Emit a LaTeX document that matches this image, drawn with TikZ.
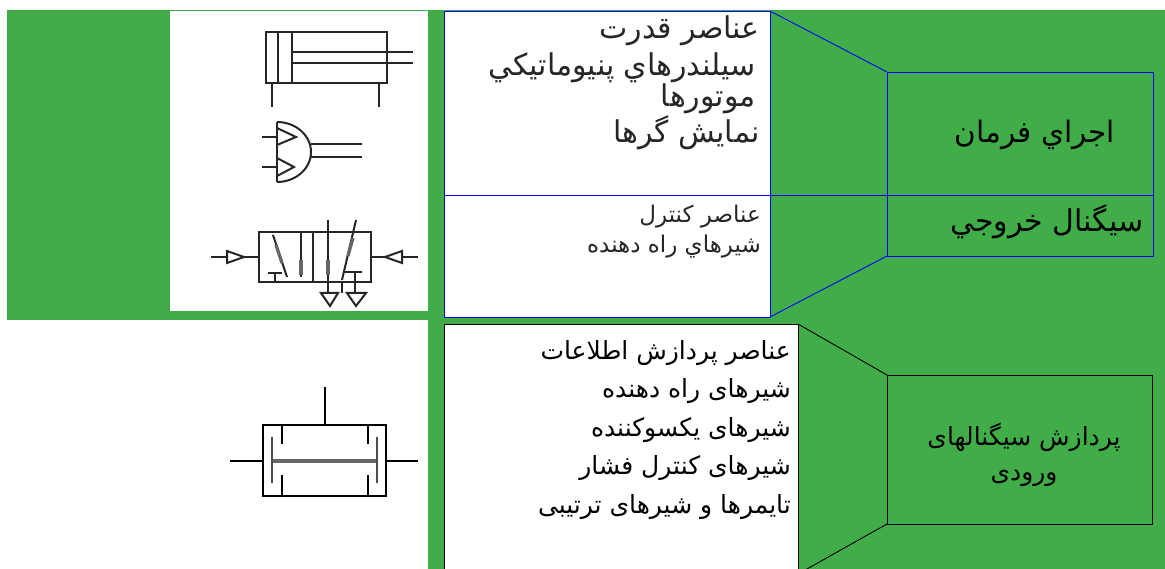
\documentclass[tikz,border=0pt]{standalone}
\usepackage{fontspec}
\usetikzlibrary{positioning}
\TeXXeTstate=1
\newfontfamily\arabicfont[Script=Arabic]{DejaVu Sans}
\newcommand{\rtl}[1]{\beginR #1\endR}
\definecolor{leafgreen}{HTML}{41AD49}
\tikzset{
    blockbox/.style={draw, rectangle, outer sep=0pt, inner sep=0pt, line width=0.9pt, anchor=north west},
    whitebox/.style={blockbox, fill=white},
    listtext/.style={align=right, anchor=north east, inner sep=0pt, font=\arabicfont\fontsize{#1}{#1}\selectfont},
    titletext/.style={align=center, inner sep=0pt, font=\arabicfont\fontsize{#1}{#1}\selectfont},
    symline/.style={line width=2pt, black!85},
    symfat/.style={line width=3.2pt, black!60},
}
\begin{document}
\begin{tikzpicture}[x=1pt, y=-1pt]
\useasboundingbox (0,0) rectangle (1165,569);

% Backgrounds
\fill[leafgreen] (7,10) rectangle (1165,320);
\fill[leafgreen] (428,320) rectangle (1165,569);
\fill[white] (170,11) rectangle (428,311);

% Upper column
\node[whitebox, draw=blue, minimum width=326pt, minimum height=184pt] (powerbox) at (444,11) {};
\node[whitebox, draw=blue, minimum width=326pt, minimum height=122pt, below=0pt of powerbox.south west, anchor=north west] (ctrlbox) {};
\node[blockbox, draw=blue, minimum width=266pt, minimum height=123pt] (execbox) at (887,72) {};
\node[blockbox, draw=blue, minimum width=266pt, minimum height=61pt, below=0pt of execbox.south west, anchor=north west] (outbox) {};
\draw[blue, line width=0.9pt] (powerbox.north east) -- (execbox.north west);
\draw[blue, line width=0.9pt] (ctrlbox.south east) -- (outbox.south west);
\draw[blue, line width=0.9pt] (powerbox.south east) -- (execbox.south west);

\node[listtext=30, text=black!85] (powertext) at (760,16) {
    \rtl{عناصر قدرت} \\[5pt]
    \rtl{سيلندرهاي پنيوماتيكي}\hspace*{4pt} \\[0pt]
    \rtl{موتورها}\hspace*{4pt} \\[1pt]
    \rtl{نمايش گرها}
};
\node[listtext=23, text=black!85] (ctrltext) at (761,205) {
    \rtl{عناصر كنترل} \\[6pt]
    \rtl{شيرهاي راه دهنده}
};
\node[titletext=29.5] (exectext) at (1035,135) {\rtl{اجراي فرمان}};
\node[titletext=30] (outtext) at (1047,222) {\rtl{سيگنال خروجي}};

% Lower column
\node[whitebox, minimum width=354pt, minimum height=250pt] (procbox) at (444,324) {};
\node[blockbox, minimum width=265pt, minimum height=149pt] (inbox) at (887,375) {};
\draw[line width=0.9pt] (procbox.north east) -- (inbox.north west);
\draw[line width=0.9pt] (procbox.south east) -- (inbox.south west);

\node[listtext=25] (proctext) at (791,340) {
    \rtl{عناصر پردازش اطلاعات} \\[12.4pt]
    \rtl{شیرهای راه دهنده} \\[12.4pt]
    \rtl{شیرهای یکسوکننده} \\[12.4pt]
    \rtl{شیرهای کنترل فشار} \\[12.4pt]
    \rtl{تایمرها و شیرهای ترتیبی}
};
\node[titletext=25] (intext) at (1024,454.5) {
    \rtl{پردازش سیگنالهای} \\[10pt]
    \rtl{ورودی}
};

% Cylinder
\draw[symline] (266,32) rectangle (387,83);
\draw[symline] (278,32) -- (278,83);
\draw[symline] (292,32) -- (292,83);
\draw[symline] (292,52) -- (413,52);
\draw[symline] (292,63) -- (413,63);
\draw[symline] (272,83) -- (272,107);
\draw[symline] (379,83) -- (379,107);

% Motor
\draw[symline] (277,122) -- (277,182);
\draw[symline] (277,122) arc (-90:90:34 and 30);
\draw[symline] (277,128) -- (296,137) -- (277,145);
\draw[symline] (277,158) -- (294,167) -- (277,176);
\draw[symline] (262,137) -- (277,137);
\draw[symline] (262,167) -- (277,167);
\draw[symline] (311,144) -- (362,144);
\draw[symline] (311,157) -- (362,157);

% Directional valve
\draw[symline] (259,232) rectangle (371,282);
\draw[symline] (313,232) -- (313,282);
\draw[symline] (211,257) -- (259,257);
\draw[symline] (371,257) -- (418,257);
\draw[symline, fill=white] (227,251) -- (244,257) -- (227,263) -- cycle;
\draw[symline, fill=white] (402,251) -- (385,257) -- (402,263) -- cycle;
\draw[symline] (273,235) -- (287,277);
\draw[symfat] (276,245) -- (282,263);
\draw[symline] (268,273) -- (282,273);
\draw[symline] (275,273) -- (275,282);
\draw[symline] (301,233) -- (301,277);
\draw[symfat] (301,260) -- (301,275);
\draw[symline] (328,220) -- (328,293);
\draw[symfat] (328,260) -- (328,275);
\draw[symline] (356,220) -- (342,280);
\draw[symfat] (353,238) -- (348,256);
\draw[symline] (345,272) -- (362,272);
\draw[symline] (355,272) -- (355,293);
\draw[symline] (342,282) -- (342,293);
\draw[symline] (321,293) -- (338,293) -- (330,306) -- cycle;
\draw[symline] (347,293) -- (366,293) -- (356,306) -- cycle;

% Shuttle valve
\draw[symline, black] (263,425) rectangle (386,496);
\draw[symline, black] (325,387) -- (325,425);
\draw[symline, black] (230,461) -- (263,461);
\draw[symline, black] (386,461) -- (418,461);
\draw[symfat] (272,461) -- (377,461);
\draw[symline, black!70, line width=2.5pt] (272,437) -- (272,483);
\draw[symline, black!70, line width=2.5pt] (377,437) -- (377,483);
\draw[symline, black] (282,425) -- (282,444);
\draw[symline, black] (282,475) -- (282,496);
\draw[symline, black] (368,425) -- (368,444);
\draw[symline, black] (368,475) -- (368,496);
\end{tikzpicture}
\end{document}
